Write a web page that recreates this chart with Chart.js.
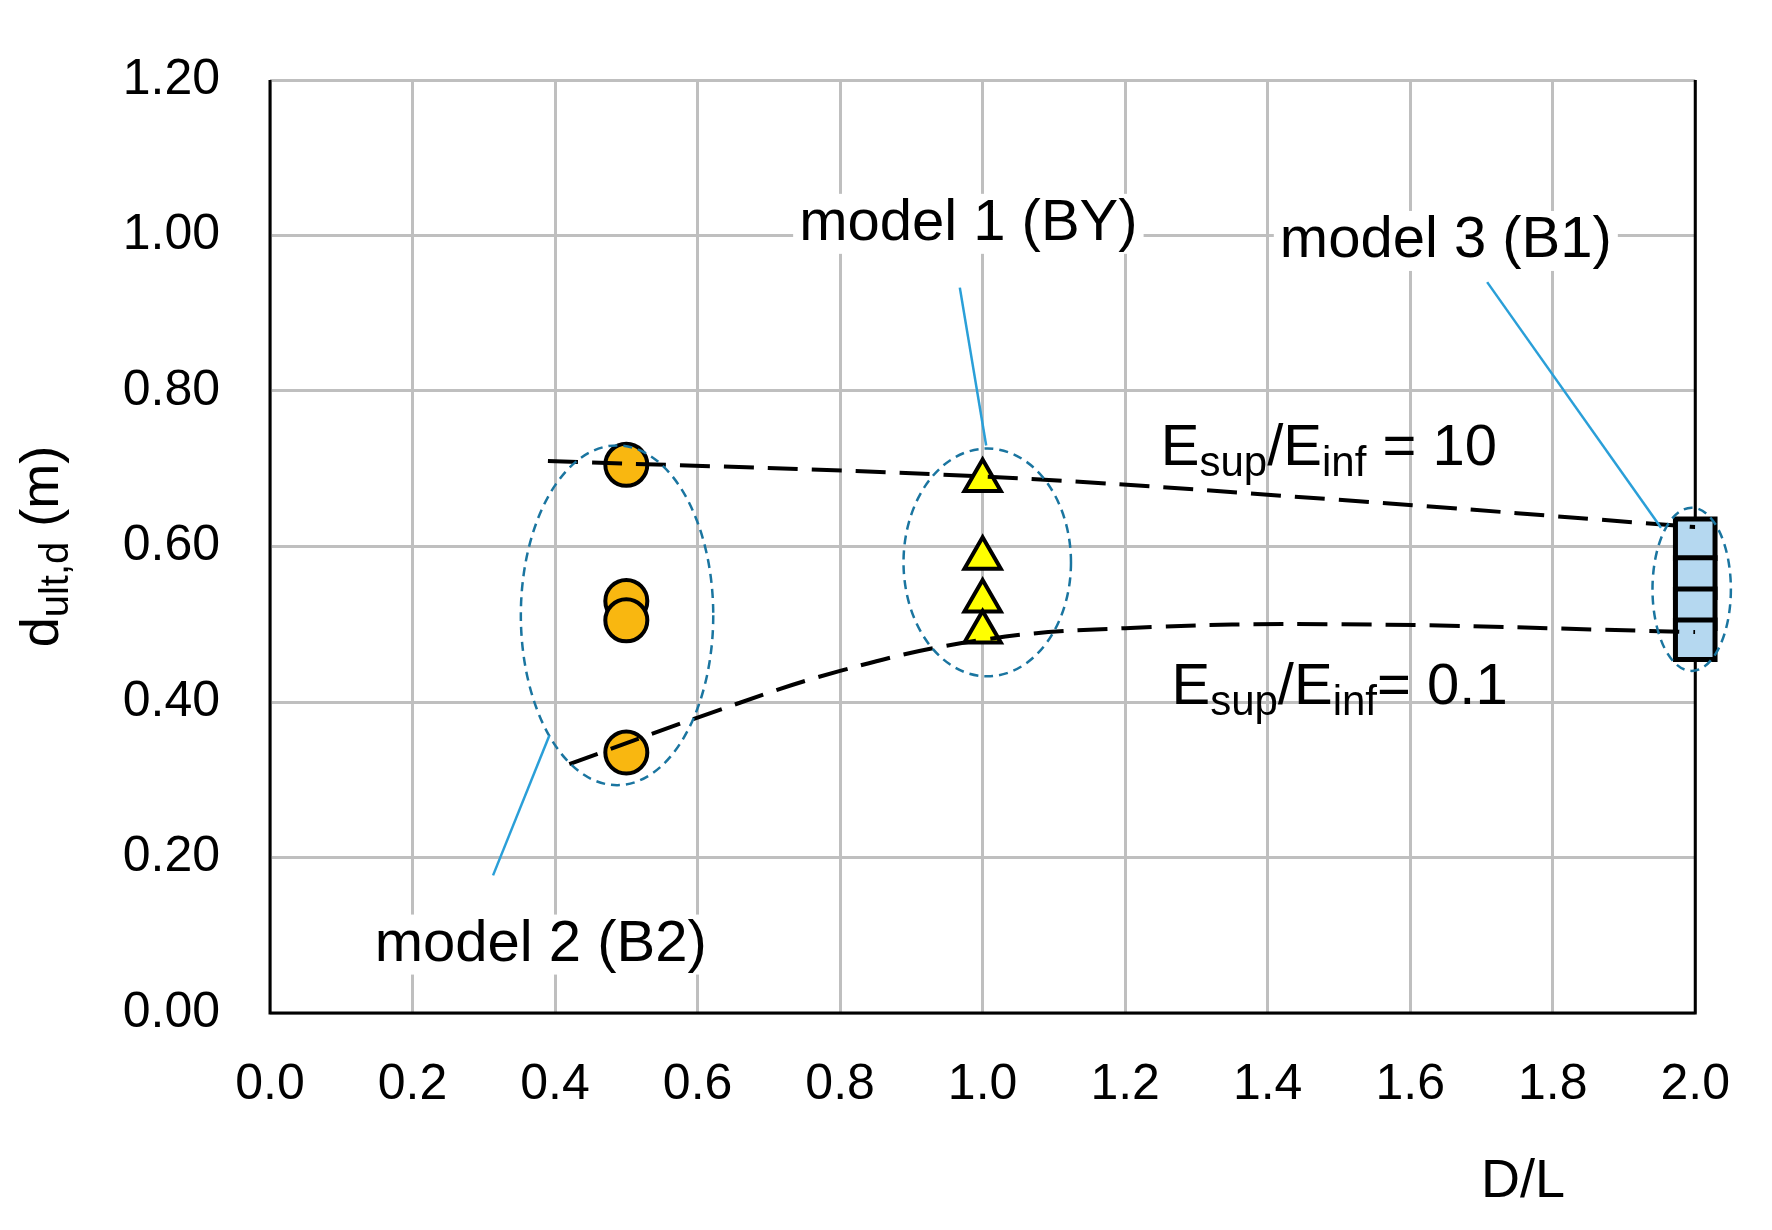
<!DOCTYPE html>
<html><head><meta charset="utf-8">
<script src="https://cdn.jsdelivr.net/npm/chart.js@4"></script>
<style>html,body{margin:0;background:#fff}#w{width:1772px;height:1230px}</style>
</head><body><div id="w"><canvas id="c"></canvas></div>
<script>
const xTicks=[0,0.2,0.4,0.6,0.8,1.0,1.2,1.4,1.6,1.8,2.0];
const yTicks=[0,0.2,0.4,0.6,0.8,1.0,1.2];
const model2X=[0.5,0.5,0.5,0.5], model2Y=[0.705,0.53,0.505,0.335];
const model1X=[1.0,1.0,1.0,1.0], model1Y=[0.685,0.585,0.53,0.49];
const model3X=[2.0,2.0,2.0,2.0], model3Y=[0.61,0.56,0.52,0.48];
const upperX=[0.39,1.0,1.5,2.0], upperY=[0.71,0.69,0.66,0.625];
const lowerX=[0.42,0.6,0.8,1.0,1.2,1.5,2.0], lowerY=[0.32,0.38,0.44,0.48,0.495,0.5,0.49];
const pts=(xs,ys)=>xs.map((x,i)=>({x,y:ys[i]}));
const ellipses=[[0.352,0.622,0.293,0.73],[0.889,1.124,0.433,0.726],[1.94,2.05,0.44,0.65]];
const leaders=[[0.968,0.933,1.005,0.73],[1.708,0.94,1.952,0.624],[0.313,0.177,0.392,0.357]];
const F='"Liberation Sans", Arial, sans-serif';
const deco={id:'deco',afterDatasetsDraw(ch){
 const c=ch.ctx,x=ch.scales.x,y=ch.scales.y,a=ch.chartArea;
 c.save();
 c.strokeStyle='#1a75a0';c.lineWidth=2.5;c.setLineDash([9,6]);
 for(const e of ellipses){const x0=x.getPixelForValue(e[0]),x1=x.getPixelForValue(e[1]),y0=y.getPixelForValue(e[2]),y1=y.getPixelForValue(e[3]);
  c.beginPath();c.ellipse((x0+x1)/2,(y0+y1)/2,(x1-x0)/2,(y0-y1)/2,0,0,Math.PI*2);c.stroke();}
 c.setLineDash([]);c.strokeStyle='#2a9fd8';c.lineWidth=2.5;
 for(const l of leaders){c.beginPath();c.moveTo(x.getPixelForValue(l[0]),y.getPixelForValue(l[1]));c.lineTo(x.getPixelForValue(l[2]),y.getPixelForValue(l[3]));c.stroke();}
 c.fillStyle='#000';c.textBaseline='middle';c.font='58px '+F;
 const T=(t,xv,yv)=>{c.textAlign='center';const px=x.getPixelForValue(xv),py=y.getPixelForValue(yv);c.fillStyle='#fff';const w=c.measureText(t).width;c.fillRect(px-w/2-6,py-30,w+12,60);c.fillStyle='#000';c.fillText(t,px,py);};
 T('model 1 (BY)',0.98,1.015);T('model 3 (B1)',1.65,0.993);T('model 2 (B2)',0.38,0.088);
 const E=(xv,yv,rest)=>{let px=x.getPixelForValue(xv);const py=y.getPixelForValue(yv);c.textAlign='left';
  const seg=[['E',58,0],['sup',42,15],['/E',58,0],['inf',42,15],[rest,58,0]];
  for(const s of seg){c.font=s[1]+'px '+F;c.fillText(s[0],px,py+s[2]);px+=c.measureText(s[0]).width;}};
 E(1.25,0.725,' = 10');E(1.265,0.418,'= 0.1');
 c.font='54px '+F;c.textAlign='center';c.fillText('D/L',1523,1182);
 c.translate(43,(a.top+a.bottom)/2);c.rotate(-Math.PI/2);
 let t1=c.measureText('d').width;c.font='40px '+F;let t2=c.measureText('ult,d').width;c.font='54px '+F;let t3=c.measureText(' (m)').width;
 let px=-(t1+t2+t3)/2;c.textAlign='left';
 c.fillText('d',px,0);px+=t1;c.font='40px '+F;c.fillText('ult,d',px,14);px+=t2;c.font='54px '+F;c.fillText(' (m)',px,0);
 c.restore();},
 beforeDatasetsDraw(ch){const c=ch.ctx,a=ch.chartArea;c.save();c.strokeStyle='#000';c.lineWidth=3;c.beginPath();
 c.moveTo(a.left,a.top);c.lineTo(a.left,a.bottom);c.lineTo(a.right,a.bottom);c.lineTo(a.right,a.top);c.stroke();c.restore();}};
new Chart(document.getElementById('c'),{type:'scatter',
 data:{datasets:[
  {data:pts(upperX,upperY),showLine:true,borderColor:'#000',borderWidth:4,borderDash:[30,14],pointRadius:0,tension:0.4},
  {data:pts(lowerX,lowerY),showLine:true,borderColor:'#000',borderWidth:4,borderDash:[30,14],pointRadius:0,tension:0.4},
  {data:pts(model2X,model2Y),pointStyle:'circle',pointRadius:21,backgroundColor:'#f9b710',borderColor:'#000',borderWidth:4,clip:false},
  {data:pts(model1X,model1Y),pointStyle:'triangle',pointRadius:21,backgroundColor:'#ffff00',borderColor:'#000',borderWidth:4,clip:false},
  {data:pts(model3X,model3Y),pointStyle:'rect',pointRadius:28,backgroundColor:'#b5d8f0',borderColor:'#000',borderWidth:5,clip:false}]},
 options:{responsive:true,maintainAspectRatio:false,animation:false,
  layout:{padding:{top:28,right:68,left:0,bottom:0}},
  plugins:{legend:{display:false},tooltip:{enabled:false}},
  scales:{
   x:{type:'linear',min:0,max:2,afterBuildTicks:s=>{s.ticks=xTicks.map(v=>({value:v}))},afterFit:s=>{s.height=217},
      grid:{color:'#bfbfbf',lineWidth:3,drawTicks:false},border:{display:false},
      ticks:{padding:42,color:'#000',font:{size:50,family:F},callback:v=>v.toFixed(1)}},
   y:{type:'linear',min:0,max:1.2,afterBuildTicks:s=>{s.ticks=yTicks.map(v=>({value:v}))},afterFit:s=>{s.width=270},
      grid:{color:'#bfbfbf',lineWidth:3,drawTicks:false},border:{display:false},
      ticks:{padding:50,color:'#000',font:{size:50,family:F},callback:v=>v.toFixed(2)}}}},
 plugins:[deco]});
</script></body></html>
